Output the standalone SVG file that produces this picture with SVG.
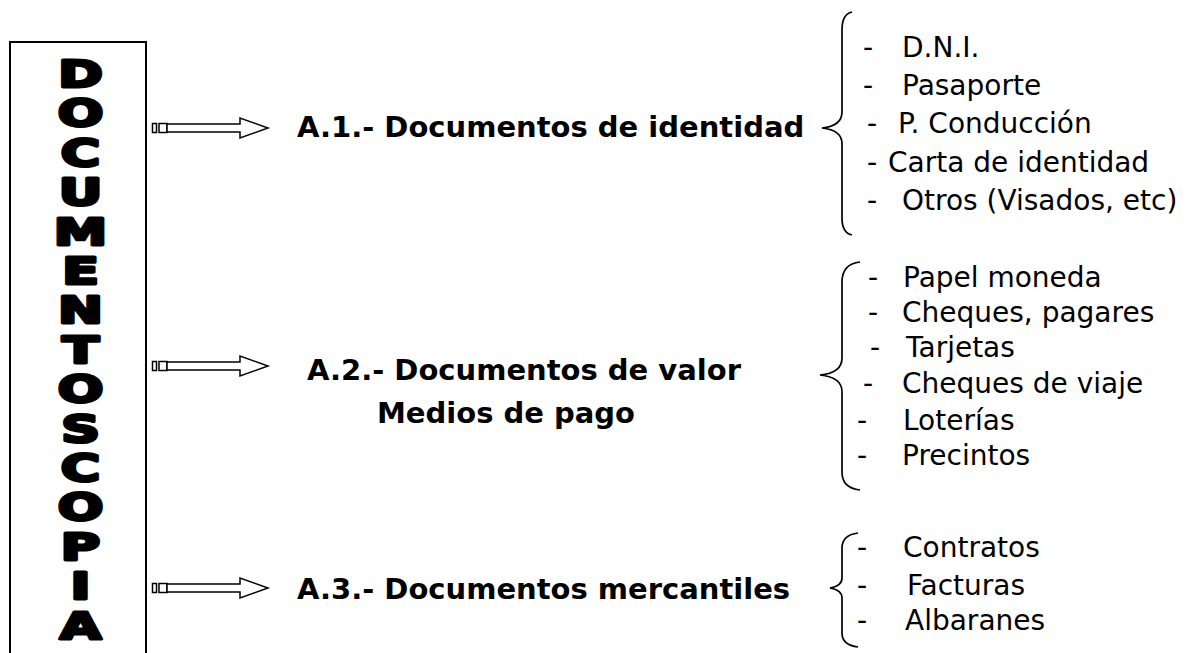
<svg xmlns="http://www.w3.org/2000/svg" xmlns:xlink="http://www.w3.org/1999/xlink" width="1196" height="653" viewBox="0 0 1196 653">
<style>
.big{font-family:"DejaVu Sans","Liberation Sans",sans-serif;font-weight:bold;font-size:37px;fill:#000;stroke:#000;stroke-width:3;stroke-linejoin:round;text-anchor:middle}
.title{font-family:"DejaVu Sans","Liberation Sans",sans-serif;font-weight:bold;font-size:29px;fill:#000}
.item{font-family:"DejaVu Sans","Liberation Sans",sans-serif;font-size:28px;fill:#000}
.brace{fill:none;stroke:#000;stroke-width:1.7}
.arr{fill:#fff;stroke:#000;stroke-width:1.5}
</style>
<defs>
<g id="arrow">
<rect class="arr" x="152.5" y="-4.5" width="4" height="9"/>
<rect class="arr" x="159" y="-4.5" width="8" height="9"/>
<path class="arr" d="M167,-4 H240 V-10 L268,0 L240,10 V4 H167 Z"/>
</g>
</defs>
<rect width="1196" height="653" fill="#fff"/>
<g id="box">
<rect x="10" y="42" width="136" height="640" fill="none" stroke="#000" stroke-width="2"/>
<g class="big" transform="scale(1.45,1)">
<text x="55.5" y="87">D</text>
<text x="55.5" y="126">O</text>
<text x="55.5" y="166">C</text>
<text x="55.5" y="205">U</text>
<text x="55.5" y="245">M</text>
<text x="55.5" y="284">E</text>
<text x="55.5" y="323">N</text>
<text x="55.5" y="363">T</text>
<text x="55.5" y="402">O</text>
<text x="55.5" y="442">S</text>
<text x="55.5" y="481">C</text>
<text x="55.5" y="520">O</text>
<text x="55.5" y="560">P</text>
<text x="55.5" y="599">I</text>
<text x="55.5" y="639">A</text>
</g>
</g>
<g id="connectors">
<use xlink:href="#arrow" transform="translate(0,128)"/>
<use xlink:href="#arrow" transform="translate(0,366)"/>
<use xlink:href="#arrow" transform="translate(0,588)"/>
<path class="brace" d="M852,12 Q842,14 842,30 V112 Q842,126 822,128 Q842,130 842,144 V218 Q842,233 852,235"/>
<path class="brace" d="M860,262 Q842,264 842,282 V358 Q842,373 820,375 Q842,377 842,392 V472 Q842,488 860,490"/>
<path class="brace" d="M858,533 Q842,535 842,548 V578 Q842,586 830,588 Q842,590 842,598 V633 Q842,645 858,647"/>
</g>
<g id="a1">
<text class="title" x="297" y="137">A.1.- Documentos de identidad</text>
</g>
<g id="a2">
<text class="title" x="307" y="380">A.2.- Documentos de valor</text>
<text class="title" x="377" y="423">Medios de pago</text>
</g>
<g id="a3">
<text class="title" x="297" y="599">A.3.- Documentos mercantiles</text>
</g>
<g id="list1" class="item">
<text><tspan x="863" y="57">-</tspan><tspan x="902" y="57">D.N.I.</tspan></text>
<text><tspan x="863" y="95">-</tspan><tspan x="902" y="95">Pasaporte</tspan></text>
<text><tspan x="867" y="133">-</tspan><tspan x="898" y="133">P. Conducción</tspan></text>
<text><tspan x="867" y="172">-</tspan><tspan x="888" y="172">Carta de identidad</tspan></text>
<text><tspan x="867" y="210">-</tspan><tspan x="902" y="210">Otros (Visados, etc)</tspan></text>
</g>
<g id="list2" class="item">
<text><tspan x="868" y="287">-</tspan><tspan x="903" y="287">Papel moneda</tspan></text>
<text><tspan x="868" y="322">-</tspan><tspan x="902" y="322">Cheques, pagares</tspan></text>
<text><tspan x="870" y="357">-</tspan><tspan x="906" y="357">Tarjetas</tspan></text>
<text><tspan x="863" y="393">-</tspan><tspan x="902" y="393">Cheques de viaje</tspan></text>
<text><tspan x="857" y="430">-</tspan><tspan x="903" y="430">Loterías</tspan></text>
<text><tspan x="857" y="465">-</tspan><tspan x="902" y="465">Precintos</tspan></text>
</g>
<g id="list3" class="item">
<text><tspan x="857" y="557">-</tspan><tspan x="903" y="557">Contratos</tspan></text>
<text><tspan x="857" y="595">-</tspan><tspan x="907" y="595">Facturas</tspan></text>
<text><tspan x="857" y="630">-</tspan><tspan x="905" y="630">Albaranes</tspan></text>
</g>
</svg>
